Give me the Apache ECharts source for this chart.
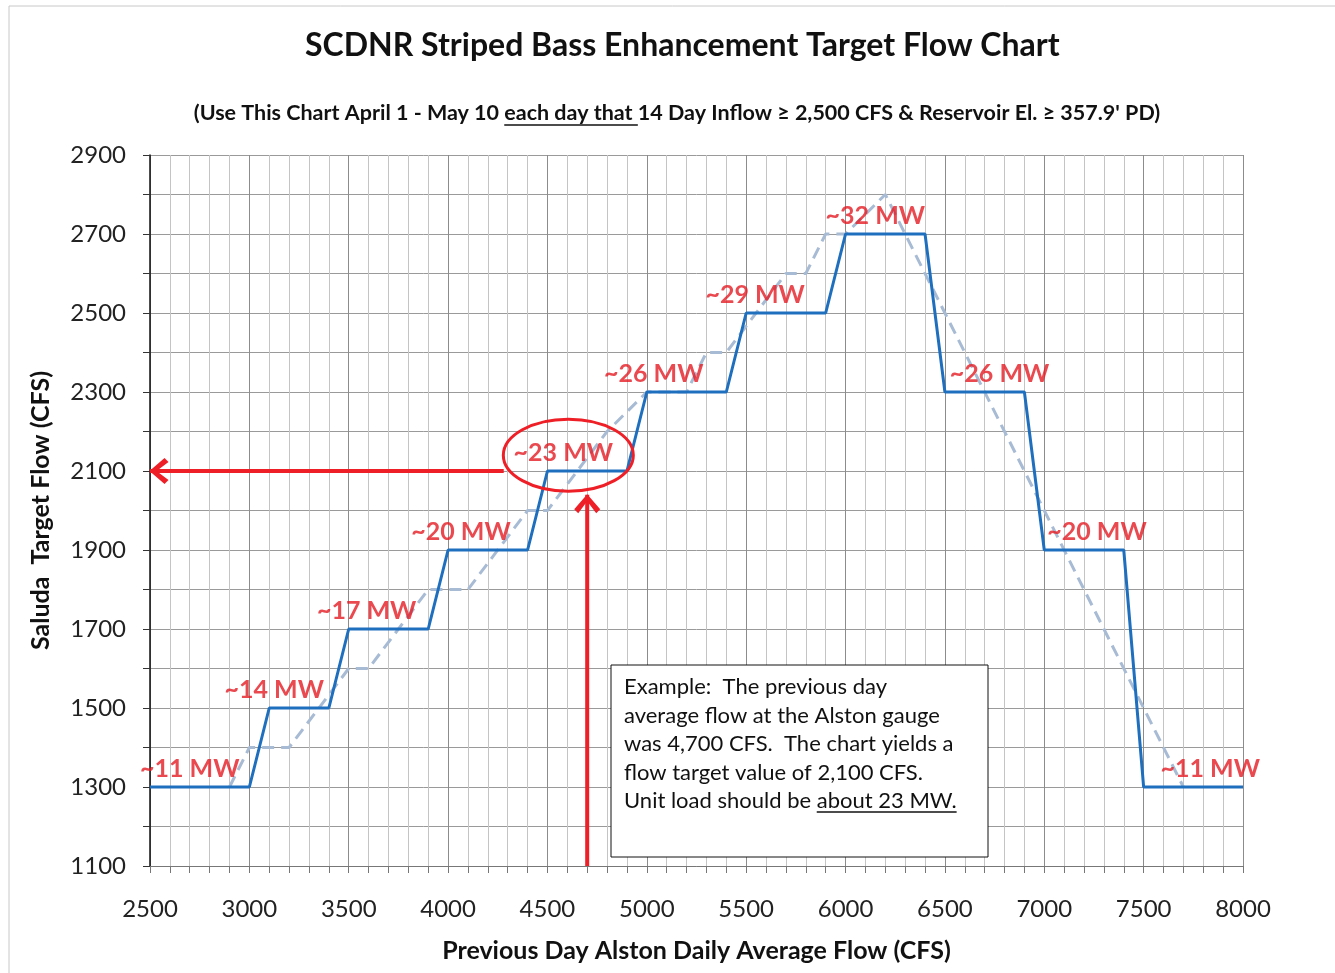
<!DOCTYPE html>
<html>
<head>
<meta charset="utf-8">
<script src="https://cdn.jsdelivr.net/npm/echarts@6/dist/echarts.min.js"></script>
<style>
  html, body { margin: 0; padding: 0; background: #fff; }
  #main { width: 1335px; height: 973px; }
</style>
</head>
<body>
<div id="main"></div>
<script>
// Blue target-flow steps
const stepFlow = [2500, 3000, 3100, 3400, 3500, 3900, 4000, 4400, 4500, 4900, 5000, 5400, 5500, 5900, 6000, 6400, 6500, 6900, 7000, 7400, 7500, 8000];
const stepTarget = [1300, 1300, 1500, 1500, 1700, 1700, 1900, 1900, 2100, 2100, 2300, 2300, 2500, 2500, 2700, 2700, 2300, 2300, 1900, 1900, 1300, 1300];

// Light dashed curve underneath
const refFlow = [2900, 3000, 3200, 3500, 3600, 3900, 4100, 4400, 4500, 4800, 5000, 5200, 5300, 5400, 5700, 5800, 5900, 6000, 6200, 6500, 7000, 7500, 7700];
const refTarget = [1300, 1400, 1400, 1600, 1600, 1800, 1800, 2000, 2000, 2200, 2300, 2300, 2400, 2400, 2600, 2600, 2700, 2700, 2800, 2500, 2000, 1500, 1300];

// Unit load labels on each step
const mwText = ["~11 MW", "~14 MW", "~17 MW", "~20 MW", "~23 MW", "~26 MW", "~29 MW", "~32 MW", "~26 MW", "~20 MW", "~11 MW"];
const mwFlow = [2700, 3125, 3590, 4065, 4580, 5035, 5545, 6150, 6775, 7265, 7835];
const mwTarget = [1300, 1500, 1700, 1900, 2100, 2300, 2500, 2700, 2300, 1900, 1300];

// Worked example
const exampleFlow = 4700;
const exampleTarget = 2100;
const exampleArrowEnd = 4280;

const FONT = 'Lato, "Open Sans", sans-serif';
const RED = "#e31b23";
const ARROW_RED = "#ee1f26";

const chartDom = document.getElementById("main");
const myChart = echarts.init(chartDom);

const zip = (xs, ys) => xs.map((x, i) => [x, ys[i]]);

const chevronLeft = "path://M0,13 L15,0 L19,4 L7,13 L19,22 L15,26 Z";
const chevronUp = "path://M13,0 L26,15 L22,19 L13,7 L4,19 L0,15 Z";

const option = {
  animation: false,
  title: {
    text: "SCDNR Striped Bass Enhancement Target Flow Chart",
    left: 300,
    top: 25,
    textStyle: { fontFamily: FONT, fontSize: 32, fontWeight: "bold", color: "#111" },
  },
  grid: { left: 150, right: 92, top: 155, bottom: 107 },
  xAxis: {
    type: "value",
    min: 2500,
    max: 8000,
    interval: 500,
    name: "Previous Day Alston Daily Average Flow (CFS)",
    nameLocation: "middle",
    nameGap: 72,
    nameTextStyle: { fontFamily: FONT, fontSize: 25, fontWeight: "bold", color: "#111" },
    axisLine: { lineStyle: { color: "#777", width: 1 } },
    axisTick: { show: true, length: 7, lineStyle: { color: "#777" } },
    minorTick: { show: true, splitNumber: 5, length: 7, lineStyle: { color: "#777" } },
    axisLabel: { fontFamily: FONT, fontSize: 24, color: "#222", margin: 31, formatter: (v) => String(v) },
    splitLine: { show: true, lineStyle: { color: "#8c8c8c", width: 1 } },
    minorSplitLine: { show: true, lineStyle: { color: "#c4c4c4", width: 1 } },
  },
  yAxis: {
    type: "value",
    min: 1100,
    max: 2900,
    interval: 200,
    name: "Saluda  Target Flow (CFS)",
    nameLocation: "middle",
    nameGap: 97,
    nameTextStyle: { fontFamily: FONT, fontSize: 25, fontWeight: "bold", color: "#111" },
    axisLine: { show: true, lineStyle: { color: "#111", width: 1.5 } },
    axisTick: { show: true, length: 7, lineStyle: { color: "#333" } },
    minorTick: { show: true, splitNumber: 2, length: 7, lineStyle: { color: "#333" } },
    axisLabel: { fontFamily: FONT, fontSize: 24, color: "#222", margin: 24, formatter: (v) => String(v) },
    splitLine: { show: true, lineStyle: { color: "#9a9a9a", width: 1 } },
    minorSplitLine: { show: true, lineStyle: { color: "#9a9a9a", width: 1 } },
  },
  series: [
    {
      name: "Reference",
      type: "line",
      data: zip(refFlow, refTarget),
      showSymbol: false,
      lineStyle: { color: "#a8bbd4", width: 3, type: [12, 7] },
      z: 2,
    },
    {
      name: "Target",
      type: "line",
      data: zip(stepFlow, stepTarget),
      showSymbol: false,
      lineStyle: { color: "#1f6fbf", width: 3 },
      z: 3,
    },
    {
      name: "Example flow",
      type: "line",
      data: [
        { value: [exampleArrowEnd, exampleTarget], symbol: "none" },
        { value: [2500, exampleTarget], symbol: chevronLeft, symbolSize: [19, 26], symbolOffset: [9, 0] },
      ],
      lineStyle: { color: ARROW_RED, width: 4 },
      itemStyle: { color: ARROW_RED },
      showSymbol: true,
      z: 5,
    },
    {
      name: "Example target",
      type: "line",
      data: [
        { value: [exampleFlow, 1100], symbol: "none" },
        { value: [exampleFlow, 2040], symbol: chevronUp, symbolSize: [26, 19], symbolOffset: [0, 9] },
      ],
      lineStyle: { color: ARROW_RED, width: 4 },
      itemStyle: { color: ARROW_RED },
      showSymbol: true,
      z: 5,
    },
    {
      name: "MW",
      type: "scatter",
      data: mwFlow.map((x, i) => ({ value: [x, mwTarget[i]], name: mwText[i] })),
      symbolSize: 0,
      label: {
        show: true,
        position: "inside",
        offset: [0, -18],
        formatter: (p) => p.name,
        fontFamily: FONT,
        fontSize: 25,
        fontWeight: "bold",
        color: RED,
      },
      z: 6,
    },
  ],
};

myChart.setOption(option);

// text measuring for underlines
const ctx = document.createElement("canvas").getContext("2d");
function textWidth(str, font) {
  ctx.font = font;
  return ctx.measureText(str).width;
}

const subtitle = "(Use This Chart April 1 - May 10 each day that 14 Day Inflow \u2265 2,500 CFS & Reservoir El. \u2265 357.9' PD)";
const subFont = "bold 21.5px " + FONT;
const subW = textWidth(subtitle, subFont);
const subLeft = 677 - subW / 2;
const ulStart = subLeft + textWidth("(Use This Chart April 1 - May 10 ", subFont);
const ulLen = textWidth("each day that ", subFont);

const boxLines = [
  "Example:  The previous day",
  "average flow at the Alston gauge",
  "was 4,700 CFS.  The chart yields a",
  "flow target value of 2,100 CFS.",
  "Unit load should be about 23 MW.",
];
const boxFont = "22px " + FONT;
const boxUlStart = 624 + textWidth("Unit load should be ", boxFont);
const boxUlLen = textWidth("about 23 MW.", boxFont);

const ellipseCenter = myChart.convertToPixel({ gridIndex: 0 }, [4605, 2140]);

myChart.setOption({
  graphic: [
    {
      type: "rect",
      shape: { x: 9, y: 6, width: 1400, height: 1100 },
      style: { fill: "none", stroke: "#c8c8c8", lineWidth: 1 },
      silent: true,
    },
    {
      type: "text",
      x: subLeft,
      y: 113,
      style: { text: subtitle, font: subFont, fill: "#111", textVerticalAlign: "middle" },
    },
    {
      type: "line",
      shape: { x1: ulStart, y1: 125, x2: ulStart + ulLen, y2: 125 },
      style: { stroke: "#111", lineWidth: 1.5 },
    },
    {
      type: "ellipse",
      shape: { cx: ellipseCenter[0], cy: ellipseCenter[1], rx: 65, ry: 36 },
      style: { fill: "none", stroke: ARROW_RED, lineWidth: 3 },
      z: 100,
    },
    {
      type: "rect",
      shape: { x: 611, y: 665, width: 377, height: 192 },
      style: { fill: "#fff", stroke: "#111", lineWidth: 1 },
      z: 100,
    },
    {
      type: "text",
      x: 624,
      y: 673,
      style: { text: boxLines.join("\n"), font: boxFont, fill: "#111", lineHeight: 28.5 },
      z: 101,
    },
    {
      type: "line",
      shape: { x1: boxUlStart, y1: 812, x2: boxUlStart + boxUlLen, y2: 812 },
      style: { stroke: "#111", lineWidth: 1.5 },
      z: 101,
    },
  ],
});
</script>
</body>
</html>
